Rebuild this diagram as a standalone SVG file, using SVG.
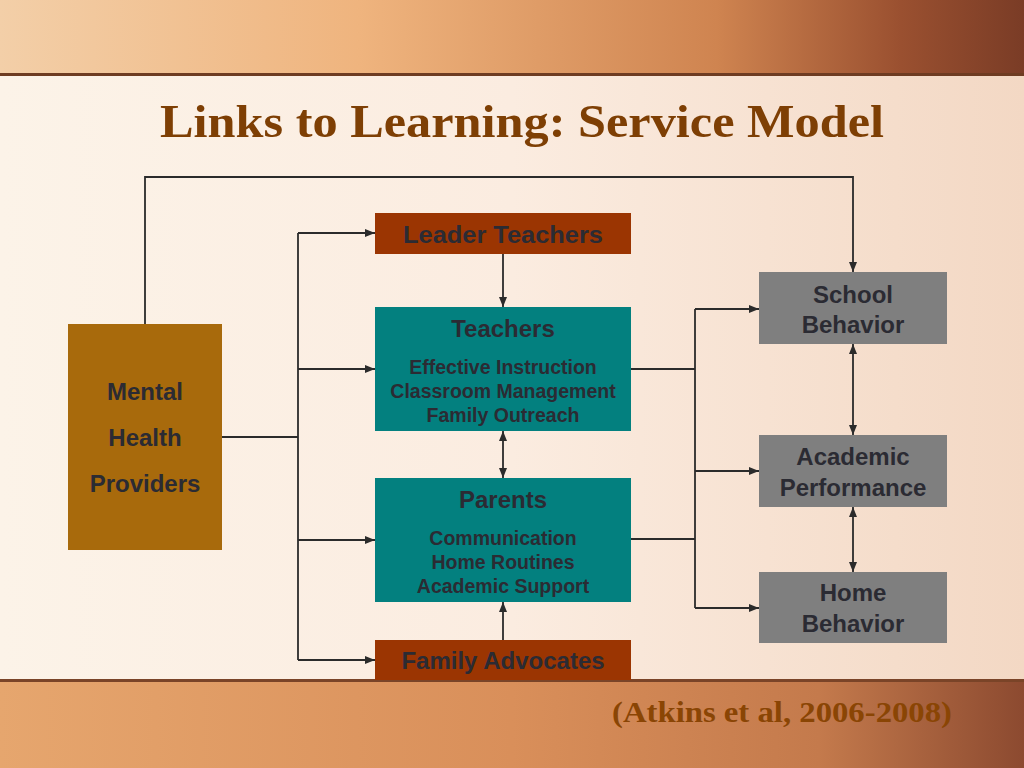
<svg xmlns="http://www.w3.org/2000/svg" width="1024" height="768" viewBox="0 0 1024 768">
<defs>
<linearGradient id="topband" x1="0" y1="0" x2="1" y2="0">
<stop offset="0" stop-color="#f3cfa8"/>
<stop offset="0.35" stop-color="#efb47e"/>
<stop offset="0.7" stop-color="#cf8450"/>
<stop offset="0.88" stop-color="#9a5030"/>
<stop offset="1" stop-color="#7a3c26"/>
</linearGradient>
<linearGradient id="botband" x1="0" y1="0" x2="1" y2="0">
<stop offset="0" stop-color="#e6a66e"/>
<stop offset="0.5" stop-color="#d98f5a"/>
<stop offset="0.8" stop-color="#c47a4c"/>
<stop offset="1" stop-color="#8c4a30"/>
</linearGradient>
<linearGradient id="mid" x1="0" y1="0" x2="1" y2="0">
<stop offset="0" stop-color="#fcf3e8"/>
<stop offset="0.5" stop-color="#fbece0"/>
<stop offset="1" stop-color="#f3d8c4"/>
</linearGradient>
<marker id="arr" viewBox="0 0 10 8" refX="10" refY="4" markerWidth="10" markerHeight="8" markerUnits="userSpaceOnUse" orient="auto-start-reverse">
<path d="M0,0 L10,4 L0,8 z" fill="#2b2b2b"/>
</marker>
<style>
.t{font-family:"Liberation Sans",Arial,sans-serif;font-weight:bold;fill:#2b2b33;text-anchor:middle}
.h{font-size:24px}
.s{font-size:19.5px}
.ln{fill:none;stroke:#2b2b2b;stroke-width:1.8}
.rust{fill:#9b3502}
.teal{fill:#03807f}
.gray{fill:#7f7f7f}
.serif{font-family:"Liberation Serif","Times New Roman",serif;font-weight:bold;text-anchor:middle}
</style>
</defs>
<rect x="0" y="0" width="1024" height="768" fill="url(#mid)"/>
<rect x="0" y="0" width="1024" height="74" fill="url(#topband)"/>
<rect x="0" y="73" width="1024" height="3" fill="#6e3c22"/>
<rect x="0" y="680" width="1024" height="88" fill="url(#botband)"/>
<rect x="0" y="679" width="1024" height="3" fill="#7a4428"/>

<text class="serif" x="522" y="137" font-size="46" fill="#7e3f04" textLength="724" lengthAdjust="spacingAndGlyphs">Links to Learning: Service Model</text>

<g id="connectors">
<polyline class="ln" points="145,324 145,177 853,177 853,272" marker-end="url(#arr)"/>
<line class="ln" x1="222" y1="437" x2="298" y2="437"/>
<line class="ln" x1="298" y1="233" x2="298" y2="660"/>
<line class="ln" x1="298" y1="233" x2="375" y2="233" marker-end="url(#arr)"/>
<line class="ln" x1="298" y1="369" x2="375" y2="369" marker-end="url(#arr)"/>
<line class="ln" x1="298" y1="540" x2="375" y2="540" marker-end="url(#arr)"/>
<line class="ln" x1="298" y1="660" x2="375" y2="660" marker-end="url(#arr)"/>
<line class="ln" x1="503" y1="254" x2="503" y2="307" marker-end="url(#arr)"/>
<line class="ln" x1="503" y1="431" x2="503" y2="478" marker-start="url(#arr)" marker-end="url(#arr)"/>
<line class="ln" x1="503" y1="640" x2="503" y2="602" marker-end="url(#arr)"/>
<line class="ln" x1="631" y1="369" x2="695" y2="369"/>
<line class="ln" x1="631" y1="539" x2="695" y2="539"/>
<line class="ln" x1="695" y1="309" x2="695" y2="608"/>
<line class="ln" x1="695" y1="309" x2="759" y2="309" marker-end="url(#arr)"/>
<line class="ln" x1="695" y1="471" x2="759" y2="471" marker-end="url(#arr)"/>
<line class="ln" x1="695" y1="608" x2="759" y2="608" marker-end="url(#arr)"/>
<line class="ln" x1="853" y1="344" x2="853" y2="435" marker-start="url(#arr)" marker-end="url(#arr)"/>
<line class="ln" x1="853" y1="507" x2="853" y2="572" marker-start="url(#arr)" marker-end="url(#arr)"/>
</g>

<g id="mental-health">
<rect x="68" y="324" width="154" height="226" fill="#a86a0c"/>
<text class="t h" x="145" y="400">Mental</text>
<text class="t h" x="145" y="446">Health</text>
<text class="t h" x="145" y="492">Providers</text>
</g>

<g id="leader-teachers">
<rect class="rust" x="375" y="213" width="256" height="41"/>
<text class="t h" x="503" y="243" textLength="200" lengthAdjust="spacingAndGlyphs">Leader Teachers</text>
</g>

<g id="teachers">
<rect class="teal" x="375" y="307" width="256" height="124"/>
<text class="t h" x="503" y="337">Teachers</text>
<text class="t s" x="503" y="374">Effective Instruction</text>
<text class="t s" x="503" y="398">Classroom Management</text>
<text class="t s" x="503" y="422">Family Outreach</text>
</g>

<g id="parents">
<rect class="teal" x="375" y="478" width="256" height="124"/>
<text class="t h" x="503" y="508">Parents</text>
<text class="t s" x="503" y="545">Communication</text>
<text class="t s" x="503" y="569">Home Routines</text>
<text class="t s" x="503" y="593">Academic Support</text>
</g>

<g id="family-advocates">
<rect class="rust" x="375" y="640" width="256" height="40"/>
<text class="t h" x="503" y="669">Family Advocates</text>
</g>

<g id="school-behavior">
<rect class="gray" x="759" y="272" width="188" height="72"/>
<text class="t h" x="853" y="303">School</text>
<text class="t h" x="853" y="333">Behavior</text>
</g>

<g id="academic-performance">
<rect class="gray" x="759" y="435" width="188" height="72"/>
<text class="t h" x="853" y="465">Academic</text>
<text class="t h" x="853" y="496">Performance</text>
</g>

<g id="home-behavior">
<rect class="gray" x="759" y="572" width="188" height="71"/>
<text class="t h" x="853" y="601">Home</text>
<text class="t h" x="853" y="632">Behavior</text>
</g>

<text class="serif" x="782" y="722" font-size="30" fill="#8a4504" textLength="340" lengthAdjust="spacingAndGlyphs">(Atkins et al, 2006-2008)</text>
</svg>
